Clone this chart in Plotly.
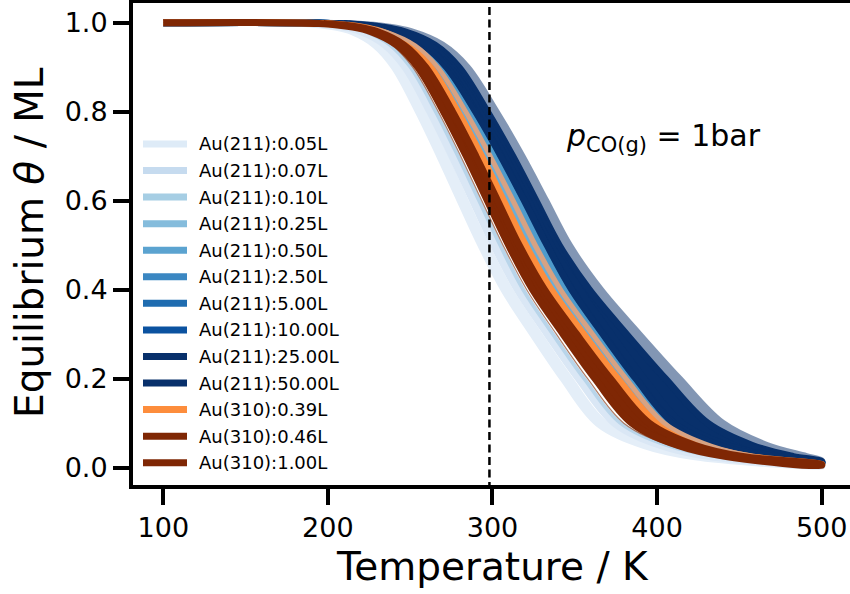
import plotly.graph_objects as go

# ---------------- data ----------------
THETA_LEVELS = [0.998, 0.99, 0.98, 0.95, 0.9, 0.8, 0.7, 0.6, 0.5, 0.4, 0.3, 0.2, 0.1, 0.05, 0.025]
T_MIN = 100.0
T_MAX = 500.0
T_ROOM = 298.15
THETA_FLAT = 1.0

LABELS = ["Au(211):0.05L", "Au(211):0.07L", "Au(211):0.10L", "Au(211):0.25L",
          "Au(211):0.50L", "Au(211):2.50L", "Au(211):5.00L", "Au(211):10.00L",
          "Au(211):25.00L", "Au(211):50.00L", "Au(310):0.39L", "Au(310):0.46L",
          "Au(310):1.00L"]

# temperature (K) of the lower / upper edge of every band at THETA_LEVELS
T_LO_211_005 = [185.0, 204.6, 214.6, 228.6, 240.4, 255.0, 268.0, 280.4, 293.0, 307.0, 324.6, 343.0, 364.0, 392.0, 422.0]
T_HI_211_005 = [186.7, 206.5, 216.6, 230.9, 242.9, 257.7, 270.9, 283.3, 296.0, 310.2, 328.0, 346.6, 367.9, 395.9, 425.8]
T_LO_211_007 = [189.2, 209.4, 219.8, 234.5, 246.8, 261.9, 275.3, 288.0, 300.7, 315.1, 333.2, 352.2, 374.0, 402.0, 431.6]
T_HI_211_007 = [189.7, 209.9, 220.3, 235.1, 247.5, 262.7, 276.1, 288.7, 301.5, 315.9, 334.1, 353.2, 375.1, 403.1, 432.6]
T_LO_211_010 = [191.3, 211.7, 222.2, 237.4, 249.9, 265.3, 278.8, 291.6, 304.4, 318.4, 336.4, 355.4, 377.4, 405.4, 435.0]
T_HI_211_010 = [191.6, 212.0, 222.6, 237.8, 250.4, 265.8, 279.4, 292.2, 305.0, 319.0, 337.0, 356.0, 378.0, 406.0, 435.6]
T_LO_211_025 = [199.4, 221.1, 232.5, 249.1, 262.6, 279.2, 293.8, 307.2, 320.5, 336.0, 355.6, 376.3, 400.0, 428.0, 456.5]
T_HI_211_025 = [200.3, 222.2, 233.7, 250.5, 264.1, 280.9, 295.6, 309.1, 322.5, 338.2, 358.0, 378.8, 402.5, 430.3, 458.5]
T_LO_211_050 = [202.3, 224.7, 236.4, 253.5, 267.5, 284.6, 299.6, 313.4, 327.0, 342.3, 361.6, 381.9, 405.2, 433.2, 461.9]
T_HI_211_050 = [203.1, 225.7, 237.5, 254.7, 268.9, 286.1, 301.2, 315.2, 328.8, 344.1, 363.4, 383.7, 407.0, 435.0, 463.7]
T_LO_211_250 = [205.2, 228.3, 240.3, 257.9, 272.4, 290.0, 305.5, 319.7, 333.5, 348.5, 367.5, 387.5, 410.5, 438.5, 467.5]
T_HI_211_250 = [205.9, 229.1, 241.2, 259.0, 273.5, 291.3, 306.8, 321.1, 335.0, 350.0, 369.0, 389.0, 412.0, 440.0, 469.0]
T_LO_211_500 = [205.5, 228.6, 240.6, 258.3, 272.8, 290.4, 305.9, 320.2, 334.0, 349.0, 368.0, 388.0, 411.0, 439.0, 468.0]
T_HI_211_500 = [206.4, 229.7, 241.8, 259.6, 274.3, 292.1, 307.7, 322.1, 336.0, 351.0, 370.0, 390.0, 413.0, 441.0, 470.0]
T_LO_211_1000 = [205.7, 228.8, 240.9, 258.6, 273.1, 290.9, 306.4, 320.6, 334.5, 349.5, 368.5, 388.5, 411.5, 439.5, 468.5]
T_HI_211_1000 = [207.5, 231.0, 243.3, 261.3, 276.1, 294.2, 310.0, 324.5, 338.5, 355.0, 376.0, 398.0, 423.0, 450.0, 476.0]
T_LO_211_2500 = [205.1, 228.1, 240.1, 257.7, 272.2, 289.8, 305.2, 319.4, 333.2, 348.2, 367.2, 387.2, 410.2, 438.2, 467.2]
T_HI_211_2500 = [209.8, 233.5, 246.4, 264.9, 279.6, 296.9, 312.3, 326.4, 340.5, 358.8, 381.4, 405.0, 430.7, 457.9, 482.8]
T_LO_211_5000 = [207.3, 230.8, 243.0, 261.0, 275.8, 293.8, 309.5, 324.0, 338.0, 353.0, 372.0, 392.0, 415.0, 443.0, 472.0]
T_HI_211_5000 = [212.8, 237.2, 250.5, 269.5, 284.6, 302.2, 317.9, 332.3, 346.6, 365.6, 389.0, 413.4, 439.7, 466.7, 490.7]
T_LO_310_039 = [198.0, 219.5, 230.7, 247.1, 260.4, 276.7, 291.1, 304.3, 317.5, 333.0, 352.6, 373.3, 397.0, 425.0, 453.5]
T_HI_310_039 = [199.2, 220.9, 232.2, 248.8, 262.3, 278.8, 293.3, 306.7, 320.0, 335.6, 355.3, 376.1, 400.0, 427.8, 456.0]
T_LO_310_046 = [201.5, 223.7, 235.3, 252.3, 266.2, 283.1, 298.0, 311.7, 325.2, 340.6, 360.0, 380.4, 403.8, 431.8, 460.4]
T_HI_310_046 = [202.2, 224.5, 236.2, 253.3, 267.3, 284.4, 299.3, 313.2, 326.7, 342.1, 361.5, 381.9, 405.3, 433.3, 461.9]
T_EDGE_310_046 = [192.4, 212.9, 223.6, 238.9, 251.5, 267.1, 280.7, 293.5, 306.4, 320.8, 338.8, 357.8, 379.8, 407.8, 437.2]
T_LO_310_100 = [194.6, 215.2, 226.1, 241.8, 254.6, 270.3, 284.1, 296.9, 309.8, 324.4, 342.9, 362.3, 384.7, 412.7, 442.0]
T_HI_310_100 = [197.4, 218.8, 229.9, 246.2, 259.4, 275.7, 289.9, 303.1, 316.2, 331.6, 351.1, 371.7, 395.3, 423.3, 452.0]

# coverage of the lower / upper band edge at T_MAX
THETA_END_LO = [0.0030, 0.0039, 0.0043, 0.0078, 0.0090, 0.0107, 0.0108, 0.0109, 0.0106, 0.0120, 0.0072, 0.0087, 0.0052]
THETA_END_HI = [0.0033, 0.0040, 0.0044, 0.0083, 0.0095, 0.0111, 0.0114, 0.0128, 0.0138, 0.0150, 0.0077, 0.0091, 0.0069]
THETA_END_EDGE_310_046 = 0.0046

T_LO = [T_LO_211_005, T_LO_211_007, T_LO_211_010, T_LO_211_025, T_LO_211_050, T_LO_211_250,
        T_LO_211_500, T_LO_211_1000, T_LO_211_2500, T_LO_211_5000, T_LO_310_039, T_LO_310_046,
        T_LO_310_100]
T_HI = [T_HI_211_005, T_HI_211_007, T_HI_211_010, T_HI_211_025, T_HI_211_050, T_HI_211_250,
        T_HI_211_500, T_HI_211_1000, T_HI_211_2500, T_HI_211_5000, T_HI_310_039, T_HI_310_046,
        T_HI_310_100]

X_TICKS = [100, 200, 300, 400, 500]
Y_TICKS = [0.0, 0.2, 0.4, 0.6, 0.8, 1.0]
Y_TICK_TEXT = ["0.0", "0.2", "0.4", "0.6", "0.8", "1.0"]

# ---------------- styles ----------------
FILL_COLORS = ["#e4eef8", "#dae7f5", "#b9d5ea", "#6baed6", "#4f9bcb", "#2e7ebc", "#1764ab",
               "#08519c", "#08306b", "#08306b", "#fd8d3c", "#d7a283", "#7f2704"]
EDGE_WIDTHS = [7, 7, 3, 7, 7, 7, 7, 7, 7, 7, 7, 3, 7]
OPACITIES = [1, 1, 1, 1, 1, 1, 1, 1, 1, 0.5, 1, 1, 1]
LEGEND_COLORS = ["#deebf7", "#c6dbef", "#a6cee4", "#85bcdc", "#5ba3d0", "#3b87c2", "#1f6cb0",
                 "#0b52a0", "#08306b", "#08306b", "#fd8d3c", "#7f2704", "#7f2704"]
FONT = "DejaVu Sans"

# plot-area geometry in pixels
L, T, R, B = 133, 3, 850, 485
W_PLOT, H_PLOT = R - L, B - T


def px_to_paper(px, py):
    return (px - L) / W_PLOT, (B - py) / H_PLOT


fig = go.Figure()

for i in range(len(LABELS)):
    xs = [T_MIN] + T_LO[i] + [T_MAX, T_MAX] + T_HI[i][::-1]
    ys = [THETA_FLAT] + THETA_LEVELS + [THETA_END_LO[i], THETA_END_HI[i]] + THETA_LEVELS[::-1]
    fig.add_trace(go.Scatter(
        x=xs, y=ys, mode="lines", fill="toself", fillcolor=FILL_COLORS[i],
        line=dict(color=FILL_COLORS[i], width=EDGE_WIDTHS[i], shape="spline", smoothing=1.0),
        opacity=OPACITIES[i], showlegend=False, hoverinfo="skip", name=LABELS[i]))
    if LABELS[i] == "Au(310):0.46L":
        fig.add_trace(go.Scatter(
            x=[T_MIN] + T_EDGE_310_046 + [T_MAX],
            y=[THETA_FLAT] + THETA_LEVELS + [THETA_END_EDGE_310_046],
            mode="lines", line=dict(color="rgba(150,80,50,0.75)", width=1.2, shape="spline"),
            showlegend=False, hoverinfo="skip"))

# room temperature marker
fig.add_trace(go.Scatter(x=[T_ROOM, T_ROOM], y=[-0.05, 1.06], mode="lines",
                         line=dict(color="black", width=2.5, dash="8px,4.5px"),
                         showlegend=False, hoverinfo="skip"))

shapes, annotations = [], []
# legend drawn by hand (handle length as in the reference)
for i, lab in enumerate(LABELS):
    yc = 144 + i * 26.56
    x0, y0 = px_to_paper(143, yc)
    x1, _ = px_to_paper(187, yc)
    shapes.append(dict(type="line", xref="paper", yref="paper", x0=x0, x1=x1, y0=y0, y1=y0,
                       line=dict(color=LEGEND_COLORS[i], width=7)))
    xt, _ = px_to_paper(197, yc)
    annotations.append(dict(xref="paper", yref="paper", x=xt, y=y0, xanchor="left",
                            yanchor="middle", text=lab, showarrow=False,
                            font=dict(family=FONT, size=18, color="black")))

# axis titles
xt, yt = px_to_paper(492, 566.7)
annotations.append(dict(xref="paper", yref="paper", x=xt, y=yt, xanchor="center",
                        yanchor="middle", text="Temperature / K", showarrow=False,
                        font=dict(family=FONT, size=39, color="black")))
xt, yt = px_to_paper(29, 243)
annotations.append(dict(xref="paper", yref="paper", x=xt, y=yt, xanchor="center",
                        yanchor="middle", text="Equilibrium <i>θ</i> / ML", textangle=-90,
                        showarrow=False, font=dict(family=FONT, size=39, color="black")))
# pressure label
xt, yt = px_to_paper(564, 137)
annotations.append(dict(xref="paper", yref="paper", x=xt, y=yt, xanchor="left",
                        yanchor="middle", text="<i>p</i><sub>CO(g)</sub> = 1bar",
                        showarrow=False, font=dict(family=FONT, size=30, color="black")))

axis_common = dict(ticks="outside", ticklen=16, tickwidth=3.5, tickcolor="black",
                   showline=True, linewidth=4, linecolor="black", showgrid=False,
                   zeroline=False, automargin=False,
                   tickfont=dict(family=FONT, size=27, color="black"))

fig.update_layout(
    width=850, height=594, autosize=False,
    margin=dict(l=L, r=850 - R, t=T, b=594 - B),
    plot_bgcolor="white", paper_bgcolor="white", showlegend=False,
    font=dict(family=FONT, color="black"),
    xaxis=dict(range=[81.6, 517.2], tickmode="array", tickvals=X_TICKS, mirror=True,
               **axis_common),
    yaxis=dict(range=[-0.0389, 1.0443], tickmode="array", tickvals=Y_TICKS,
               ticktext=Y_TICK_TEXT, mirror=False, **axis_common),
    shapes=shapes, annotations=annotations,
)

fig.write_html("out.html")
